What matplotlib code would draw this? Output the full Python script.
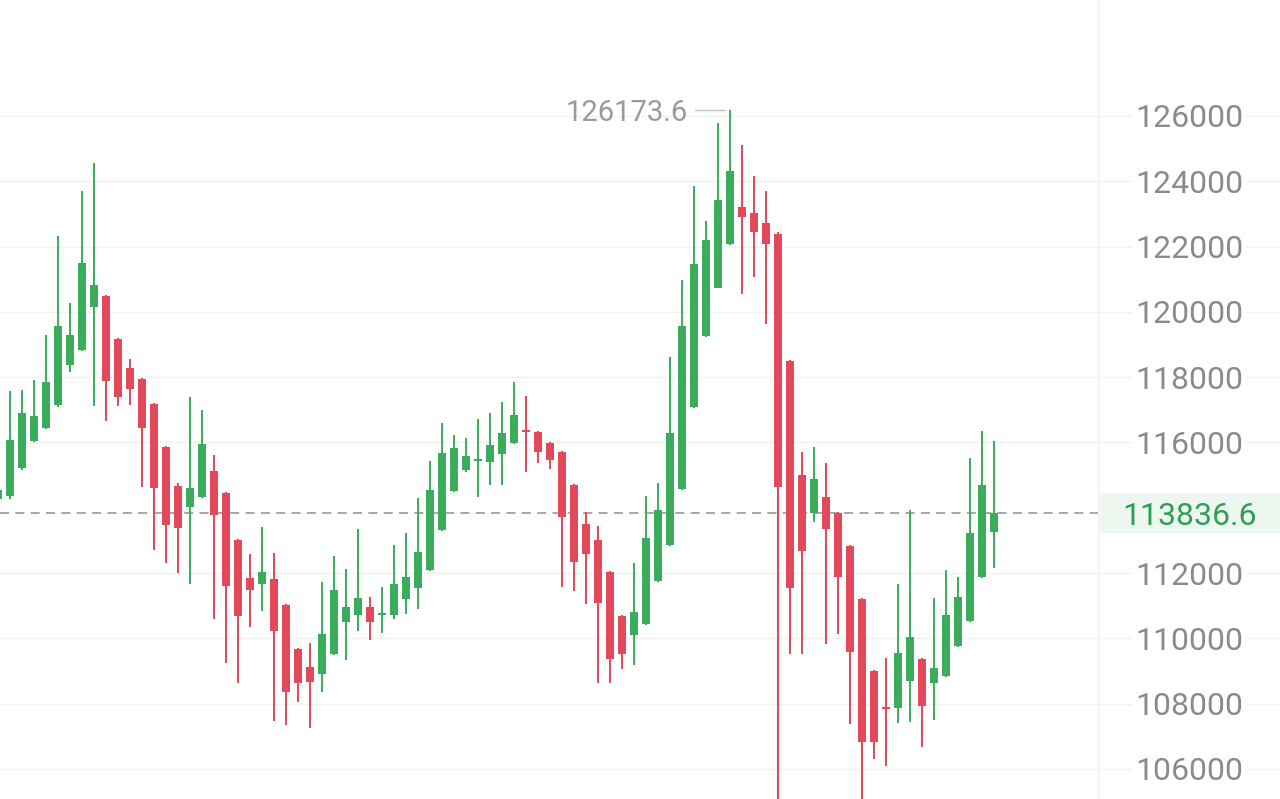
import numpy as np
import matplotlib.pyplot as plt
import matplotlib.transforms as mtransforms
from matplotlib.patches import Rectangle

plt.rcParams["font.family"] = ["Roboto", "DejaVu Sans"]

# candle index, the first one is cut by the left edge
idx = list(range(-1, 83))

opens = [114270, 114370, 115210, 116045, 116430, 117140, 118370, 118830, 120160, 120490,
         119170, 118270, 117940, 117180, 115850, 114670, 114030, 114320, 115140, 114440,
         113010, 111840, 111670, 111830, 111020, 109670, 109130, 108910, 109520, 110490,
         110720, 110950, 110730, 110720, 111200, 111530, 112090, 113320, 114510, 115160,
         115420, 115390, 115650, 115980, 116380, 116330, 115990, 115720, 114700, 113500,
         113010, 112040, 110690, 110090, 110450, 111760, 112850, 114570, 117090, 119270,
         120740, 122070, 123200, 123030, 122730, 122380, 118500, 115000, 113850, 114340,
         113830, 112840, 111200, 109000, 107890, 107860, 108690, 109360, 108620, 108860,
         109780, 110530, 111870, 113270]
highs = [114700, 117590, 117610, 117910, 119290, 122320, 120260, 123710, 124550, 120520,
         119200, 118550, 117970, 117210, 115880, 114770, 117380, 117000, 115620, 114470,
         113040, 112580, 113420, 112600, 111050, 109700, 109870, 111740, 112530, 112120,
         113350, 111260, 111560, 112860, 113240, 114290, 115430, 116610, 116230, 116130,
         116710, 116910, 117250, 117860, 117420, 116360, 116020, 115750, 114730, 113880,
         113450, 112070, 110720, 112310, 114350, 114750, 118620, 120990, 123870, 122770,
         125800, 126173.6, 125100, 124160, 123710, 122460, 118530, 115720, 115870, 115380,
         113860, 112870, 111230, 109030, 109390, 111660, 113930, 109390, 111230, 112090,
         111890, 115520, 116350, 116050]
lows = [114100, 114260, 115150, 116000, 116400, 117100, 118170, 118800, 117120, 116670,
        117120, 117150, 114630, 112710, 112300, 111990, 111660, 114300, 110580, 109240,
        108640, 110360, 110840, 107470, 107350, 108040, 107250, 108370, 109500, 109340,
        110230, 109950, 110150, 110590, 110750, 110900, 112050, 113300, 114480, 115100,
        114340, 114700, 114700, 115950, 115100, 115380, 115180, 111580, 111450, 111040,
        108620, 108620, 109060, 109180, 110420, 111730, 112820, 114540, 117060, 119240,
        120720, 122050, 120560, 121070, 119630, 104800, 109520, 109520, 113570, 109820,
        110120, 107380, 104900, 106300, 106100, 107420, 107430, 106660, 107500, 108830,
        109750, 110500, 111840, 112160]
closes = [114540, 116080, 116890, 116820, 117860, 119580, 119290, 121510, 120820, 117880,
          117400, 117630, 116430, 114610, 113460, 113370, 114620, 115950, 113780, 111610,
          110690, 111480, 112020, 110230, 108350, 108640, 108650, 110120, 111480, 110950,
          111230, 110510, 110760, 111660, 111890, 112660, 114550, 115690, 115820, 115590,
          115450, 115920, 116280, 116840, 116310, 115720, 115460, 113710, 112330, 112580,
          111090, 109360, 109510, 110810, 113080, 113930, 116290, 119570, 121470, 122200,
          123430, 124310, 122900, 122460, 122070, 114630, 111540, 112690, 114870, 113350,
          111870, 109570, 106820, 106830, 107830, 109540, 110030, 107930, 109080, 110720,
          111280, 113220, 114700, 113836.6]

tick_values = [106000, 108000, 110000, 112000, 116000, 118000, 120000, 122000, 124000, 126000]
last_price = 113836.6
max_price = 126173.6

GREEN = "#3aac5c"
RED = "#e2495a"
SPLIT = 1098 / 1280  # where the price scale starts


def draw_candles(ax):
    o = np.array(opens)
    c = np.array(closes)
    colors = [GREEN if cc >= oo else RED for oo, cc in zip(o, c)]
    ax.vlines(idx, lows, highs, colors=colors, lw=1.4, zorder=3)
    body = np.maximum(np.abs(c - o), 60)
    ax.bar(idx, body, bottom=np.minimum(o, c), width=0.68, color=colors,
           linewidth=0, zorder=4)


def draw_axis(ax):
    trans = mtransforms.blended_transform_factory(ax.transAxes, ax.transData)
    for v in tick_values:
        ax.axhline(v, color="#f1f1f1", lw=1, zorder=0)
        ax.text(0.929, v, str(v), transform=trans, ha="center", va="center_baseline",
                fontsize=23, color="#8a8a8a",
                bbox=dict(facecolor="white", edgecolor="none", pad=2))
    ax.plot([SPLIT, SPLIT], [0, 1], transform=ax.transAxes, color="#efefef",
            lw=1, zorder=1)

    # current price line and label
    ax.plot([0, SPLIT], [last_price, last_price], transform=trans,
            color="#a0a0a0", lw=1.3, ls=(0, (5, 3.5)), zorder=2)
    ax.add_patch(Rectangle((1100 / 1280, last_price - 615), 180 / 1280, 1230,
                           transform=trans, facecolor="#edf7f0", edgecolor="none",
                           zorder=2))
    ax.text(0.929, last_price, f"{last_price:.1f}", transform=trans, ha="center",
            va="center_baseline", fontsize=23, color="#2f9e55", zorder=3)

    # highest price marker
    hi = idx[highs.index(max_price)]
    ax.plot([hi - 2.95, hi - 0.45], [max_price, max_price], color="#c4c4c4",
            lw=1, zorder=2)
    ax.text(hi - 3.5, max_price, f"{max_price:.1f}", ha="right", va="center_baseline",
            fontsize=21, color="#9a9a9a")


def main():
    fig = plt.figure(figsize=(12.8, 7.99), dpi=100)
    ax = fig.add_axes([0, 0, 1, 1])
    ax.set_xlim(-10 / 12, 1270 / 12)
    ax.set_ylim(105080, 129553)
    ax.axis("off")
    draw_axis(ax)
    draw_candles(ax)
    fig.savefig("out.png", dpi=100, facecolor="white")


if __name__ == "__main__":
    main()
